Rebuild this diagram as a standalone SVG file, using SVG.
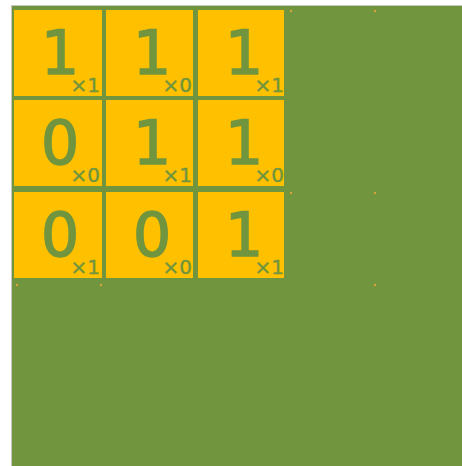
<svg xmlns="http://www.w3.org/2000/svg" width="462" height="466" viewBox="0 0 462 466">
<style>
.cell rect{fill:#ffc000}
.d{font-family:"DejaVu Sans","Liberation Sans",sans-serif;font-size:60px;fill:#71953e;stroke:#71953e;stroke-width:1.6;text-anchor:middle}
.s{font-family:"DejaVu Sans","Liberation Sans",sans-serif;font-size:20px;fill:#71953e;stroke:#71953e;stroke-width:0.4;text-anchor:end}
.dot{fill:#d9a23e}
</style>
<rect x="11" y="5" width="451" height="461" fill="#c8c8c0"/>
<rect x="12" y="6" width="450" height="460" fill="#71953e"/>
<g id="dots">
<circle class="dot" cx="291" cy="11" r="1.2"/>
<circle class="dot" cx="375" cy="11" r="1.2"/>
<circle class="dot" cx="291" cy="193" r="1.2"/>
<circle class="dot" cx="375" cy="193" r="1.2"/>
<circle class="dot" cx="17" cy="285" r="1.2"/>
<circle class="dot" cx="101" cy="285" r="1.2"/>
<circle class="dot" cx="375" cy="285" r="1.2"/>
</g>
<g id="connectors"/>
<g id="c00" class="cell"><rect x="14" y="10" width="88" height="86"/><text class="d" x="60" y="74">1</text><text class="s" x="100" y="92">×1</text></g>
<g id="c01" class="cell"><rect x="106" y="10" width="87" height="86"/><text class="d" x="152" y="74">1</text><text class="s" x="192" y="92">×0</text></g>
<g id="c02" class="cell"><rect x="198" y="10" width="86" height="86"/><text class="d" x="244" y="74">1</text><text class="s" x="284" y="92">×1</text></g>
<g id="c10" class="cell"><rect x="14" y="100" width="88" height="86"/><text class="d" x="60" y="164">0</text><text class="s" x="100" y="182">×0</text></g>
<g id="c11" class="cell"><rect x="106" y="100" width="87" height="86"/><text class="d" x="152" y="164">1</text><text class="s" x="192" y="182">×1</text></g>
<g id="c12" class="cell"><rect x="198" y="100" width="86" height="86"/><text class="d" x="244" y="164">1</text><text class="s" x="284" y="182">×0</text></g>
<g id="c20" class="cell"><rect x="14" y="192" width="88" height="86"/><text class="d" x="60" y="256">0</text><text class="s" x="100" y="274">×1</text></g>
<g id="c21" class="cell"><rect x="106" y="192" width="87" height="86"/><text class="d" x="152" y="256">0</text><text class="s" x="192" y="274">×0</text></g>
<g id="c22" class="cell"><rect x="198" y="192" width="86" height="86"/><text class="d" x="244" y="256">1</text><text class="s" x="284" y="274">×1</text></g>
</svg>
